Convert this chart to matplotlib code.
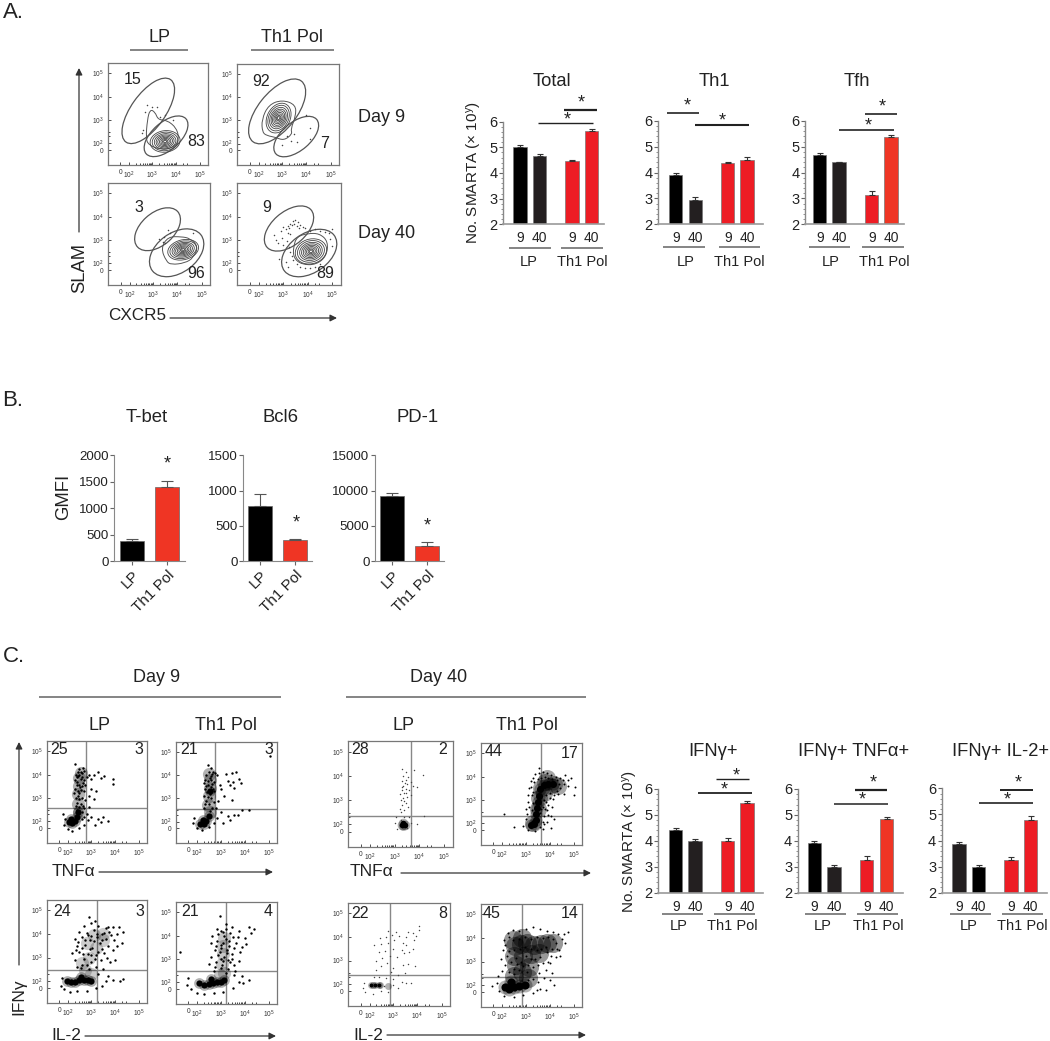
import numpy as np
import matplotlib
matplotlib.use('Agg')
import matplotlib.pyplot as plt
from matplotlib.patches import Ellipse, PathPatch
from matplotlib.path import Path
from matplotlib.ticker import MultipleLocator

plt.rcParams['font.family'] = ['Liberation Sans', 'DejaVu Sans']
plt.rcParams['mathtext.default'] = 'regular'

W, H = 1050, 1041

# bar values
days = ['9', '40', '9', '40']
total_vals, total_errs = [5.0, 4.65, 4.45, 5.65], [0.1, 0.08, 0.04, 0.08]
th1_vals, th1_errs = [3.9, 2.95, 4.37, 4.5], [0.1, 0.1, 0.05, 0.1]
tfh_vals, tfh_errs = [4.67, 4.4, 3.15, 5.38], [0.08, 0.03, 0.15, 0.07]
ifn_vals, ifn_errs = [4.42, 3.98, 4.0, 5.47], [0.08, 0.1, 0.1, 0.08]
ifn_tnf_vals, ifn_tnf_errs = [3.9, 3.0, 3.27, 4.83], [0.08, 0.08, 0.13, 0.1]
ifn_il2_vals, ifn_il2_errs = [3.88, 2.98, 3.25, 4.8], [0.07, 0.08, 0.13, 0.12]

gmfi_names = ['LP', 'Th1 Pol']
tbet_vals, tbet_errs = [375, 1400], [50, 110]
bcl6_vals, bcl6_errs = [785, 300], [170, 10]
pd1_vals, pd1_errs = [9200, 2150], [400, 500]

# contour panels: gates are (centre x, centre y, length, width, angle) in decades
lp9_gates = [(2.83, 3.39, 3.27, 1.45, 55), (3.58, 2.30, 2.25, 1.18, 42)]
th9_gates = [(2.79, 3.39, 3.3, 1.6, 53), (3.58, 2.30, 2.25, 1.2, 42)]
lp40_gates = [(3.18, 3.46, 2.25, 1.38, 43), (3.97, 2.45, 2.53, 1.69, 38)]
th40_gates = [(3.24, 3.49, 2.4, 1.41, 43), (4.06, 2.44, 2.53, 1.66, 38)]

lp9_outer = [(2.73, 2.23), (2.79, 3.0), (2.90, 3.45), (3.11, 3.35), (3.25, 3.0), (3.61, 3.0), (4.03, 2.65),
             (4.13, 2.15), (3.89, 1.80), (3.32, 1.73), (2.83, 1.94)]
th9_outer = [(2.18, 2.48), (2.15, 3.04), (2.44, 3.68), (3.0, 3.89), (3.56, 3.68), (3.56, 3.18), (3.35, 2.62),
             (3.42, 2.41), (3.07, 2.13), (2.72, 2.27), (2.37, 2.34)]
lp40_outer = [(3.32, 2.65), (3.61, 3.14), (4.17, 3.14), (4.52, 3.07), (4.87, 2.72), (4.66, 2.23), (4.31, 2.01),
              (3.75, 1.94), (3.54, 2.08)]
th40_outer = [(3.42, 2.72), (3.56, 3.14), (3.99, 3.28), (4.48, 3.28), (4.83, 2.93), (4.76, 2.30), (4.34, 1.94),
              (3.77, 1.94), (3.42, 2.23)]

# inner contours: centre x, centre y, length, width, angle
lp9_inner = (3.54, 2.08, 1.27, 0.92, 8)
th9_inner = (2.85, 3.1, 1.35, 0.95, 65)
lp40_inner = (4.24, 2.58, 1.3, 0.85, 15)
th40_inner = (4.13, 2.51, 1.3, 1.05, 20)
contour_scale = [1.0, 0.86, 0.72, 0.6, 0.49, 0.38, 0.28, 0.18, 0.1]

lp9_dots = [(2.76, 3.63), (2.97, 3.54), (3.18, 3.54), (2.69, 3.35), (2.55, 2.44), (2.62, 2.58), (3.32, 3.14),
            (3.89, 3.0), (3.54, 3.21)]
th9_dots = [(3.99, 3.25), (4.13, 2.66), (3.63, 2.06), (3.35, 2.13), (3.0, 1.92), (4.13, 2.2), (3.5, 2.41), (3.2, 2.34)]
lp40_dots = [(3.61, 3.42), (3.68, 3.28), (3.46, 3.14), (3.39, 2.93), (3.25, 3.05), (4.65, 3.3), (3.5, 2.85)]
th40_dots = [(2.65, 3.2), (2.7, 3.0), (2.8, 2.85), (2.95, 3.1), (3.0, 2.8), (3.1, 3.45), (3.2, 3.6), (3.3, 3.7), (3.4, 3.8),
             (3.5, 3.85), (3.6, 3.75), (3.7, 3.65), (3.8, 3.55), (3.25, 3.5), (3.35, 3.62), (3.45, 3.7), (3.55, 3.6),
             (3.65, 3.5), (3.2, 3.3), (3.3, 3.25), (3.15, 2.95), (3.25, 2.7), (3.3, 2.5), (3.35, 2.3), (3.4, 2.15),
             (3.55, 1.95), (3.7, 1.85), (3.9, 1.8), (4.1, 1.8), (4.3, 1.85), (4.5, 1.95), (4.1, 3.4), (4.3, 3.45),
             (4.5, 3.4), (4.7, 3.35), (4.85, 3.3), (5.0, 3.45), (4.9, 3.05), (5.0, 2.75), (2.85, 2.2), (3.1, 2.05),
             (3.2, 1.85), (3.9, 3.5), (3.0, 3.55), (2.9, 3.4)]

# dot panels: scattered events, solid dense parts and soft crowded parts, in decades
d9_lp_tnf_dots = [(2.5, 2.6), (2.4, 2.8), (2.6, 3.0), (2.5, 3.2), (2.3, 3.4), (2.6, 3.5), (2.4, 3.7), (2.7, 3.3), (2.55, 3.8),
                  (2.35, 4.0), (2.6, 4.05), (2.45, 3.95), (2.8, 3.9), (2.9, 4.0), (2.7, 4.15), (2.5, 4.25), (2.65, 4.3),
                  (2.3, 4.45), (3.0, 3.8), (3.1, 4.0), (3.3, 4.1), (3.55, 3.95), (3.4, 3.85), (3.9, 3.8), (3.9, 3.6),
                  (3.0, 3.4), (3.2, 3.3), (2.9, 3.1), (2.75, 2.9), (3.1, 2.95), (2.4, 2.5), (2.6, 2.4), (2.8, 2.3),
                  (3.0, 2.2), (3.3, 2.1), (3.5, 2.2), (3.7, 2.0), (3.15, 1.85), (3.4, 1.95), (2.85, 2.05), (2.7, 2.2),
                  (1.85, 1.85), (1.9, 2.1), (1.8, 2.3), (2.0, 1.65), (2.2, 1.6), (2.5, 1.7), (2.7, 1.85), (2.6, 2.1),
                  (2.35, 3.0), (2.45, 3.3), (2.55, 2.75), (2.65, 3.65), (2.5, 3.55), (2.4, 3.9), (2.7, 3.75), (2.42, 3.1),
                  (2.58, 3.35), (2.33, 3.75), (2.48, 4.0), (2.62, 3.9), (2.28, 3.2), (2.5, 2.95), (2.66, 2.65), (2.75, 3.55),
                  (2.38, 3.55), (2.52, 3.45), (2.44, 4.1), (2.56, 4.12), (2.36, 2.65), (2.7, 2.55), (2.9, 2.6), (2.47, 2.35)]
d9_lp_tnf_core = [(2.05, 1.95), (2.2, 1.93), (2.32, 2.0), (2.15, 2.1), (2.4, 2.2), (2.42, 2.38)]
d9_lp_tnf_haze = [(2.45, 2.75), (2.45, 3.15), (2.48, 3.5), (2.5, 3.85), (2.55, 4.05), (2.5, 2.4)]

d9_th_tnf_dots = [(2.5, 2.75), (2.4, 2.9), (2.6, 3.0), (2.3, 3.1), (2.55, 3.2), (2.7, 3.3), (2.35, 3.4), (2.6, 3.5), (2.45, 3.6),
                  (2.7, 3.7), (2.35, 3.8), (2.55, 3.9), (2.4, 4.0), (2.65, 4.05), (2.5, 4.15), (2.75, 4.1), (2.6, 4.3),
                  (2.45, 4.45), (2.85, 4.0), (3.2, 4.05), (3.45, 4.1), (3.65, 4.15), (3.3, 3.75), (3.4, 3.6), (3.5, 3.7),
                  (3.75, 3.85), (3.85, 3.65), (3.55, 3.45), (3.0, 3.4), (3.15, 3.1), (3.45, 2.95), (2.9, 2.9), (2.95, 3.6),
                  (2.8, 2.6), (3.0, 2.4), (3.3, 2.25), (3.55, 2.3), (3.7, 2.3), (3.9, 2.5), (4.2, 2.5), (3.4, 2.05), (3.1, 1.95),
                  (2.85, 2.15), (2.7, 1.95), (1.85, 1.95), (1.9, 2.15), (2.0, 1.7), (2.2, 1.65), (2.5, 1.75), (5.05, 4.85),
                  (2.3, 2.6), (2.62, 2.6), (2.48, 3.05), (2.52, 3.35), (2.62, 3.62), (2.48, 3.75), (2.58, 3.78), (2.42, 3.28),
                  (2.66, 3.4), (2.4, 3.55), (2.58, 3.95), (2.7, 2.85), (2.35, 2.75), (2.55, 2.45), (2.3, 3.65), (2.68, 4.15)]
d9_th_tnf_core = [(2.12, 1.9), (2.28, 1.88), (2.4, 2.02), (2.25, 2.08), (2.52, 2.22), (2.56, 3.3)]
d9_th_tnf_haze = [(2.45, 2.7), (2.5, 3.1), (2.55, 3.45), (2.55, 3.8), (2.5, 4.05), (2.55, 2.4)]

d9_lp_il2_dots = [(2.4, 2.6), (2.6, 2.7), (2.9, 2.5), (3.2, 2.6), (3.5, 2.5), (2.3, 2.9), (2.7, 2.95), (3.0, 2.8), (3.4, 2.9),
                  (3.8, 2.8), (2.2, 3.2), (2.5, 3.25), (2.85, 3.15), (3.2, 3.1), (3.55, 3.2), (3.9, 3.3), (2.4, 3.5),
                  (2.75, 3.55), (3.05, 3.4), (3.35, 3.6), (3.7, 3.5), (4.1, 3.5), (2.3, 3.8), (2.6, 3.85), (2.95, 3.75),
                  (3.25, 3.85), (3.6, 3.8), (3.95, 3.75), (4.3, 3.6), (2.5, 4.1), (2.8, 4.05), (3.1, 4.15), (3.45, 4.0),
                  (3.75, 4.1), (4.1, 4.0), (4.35, 4.1), (2.7, 4.35), (3.0, 4.45), (3.3, 4.35), (3.6, 4.25), (3.9, 4.3),
                  (4.15, 4.3), (2.9, 4.7), (3.15, 4.55), (1.7, 1.8), (1.75, 2.15), (1.85, 1.65), (2.1, 1.55), (2.4, 1.6),
                  (2.8, 1.6), (3.2, 1.7), (3.45, 1.8), (3.6, 2.0), (3.9, 2.05), (4.2, 2.0), (4.35, 2.1), (3.7, 2.2), (3.3, 2.3),
                  (2.6, 3.4), (2.95, 3.35), (3.1, 3.7), (2.65, 3.15), (3.45, 3.35), (2.85, 3.95), (3.25, 4.0), (3.55, 4.05),
                  (3.85, 3.95), (2.45, 3.65), (3.15, 2.95), (2.8, 2.7), (3.0, 3.1), (2.55, 2.55), (3.3, 3.25), (3.65, 3.0),
                  (4.0, 2.9), (2.75, 3.75), (3.45, 3.75), (3.7, 4.3), (3.0, 3.9), (2.35, 3.3)]
d9_lp_il2_core = [(1.98, 2.0), (2.15, 1.95), (2.32, 1.98), (2.5, 2.03), (2.68, 2.05), (2.85, 2.03), (2.98, 2.0), (2.55, 2.18)]
d9_lp_il2_haze = [(3.0, 2.3), (2.75, 2.45), (2.9, 3.0), (3.2, 3.4), (2.8, 3.6), (3.5, 3.75), (3.1, 3.95), (2.6, 2.75), (3.5, 4.0)]

d9_th_il2_dots = [(2.7, 2.5), (3.0, 2.6), (3.3, 2.55), (3.6, 2.5), (2.5, 2.8), (2.8, 2.85), (3.1, 2.9), (3.4, 2.85), (3.75, 2.9),
                  (2.6, 3.1), (2.9, 3.15), (3.15, 3.1), (3.45, 3.2), (3.8, 3.3), (2.75, 3.4), (3.0, 3.45), (3.25, 3.4),
                  (3.55, 3.45), (3.9, 3.5), (2.6, 3.7), (2.85, 3.75), (3.1, 3.7), (3.35, 3.75), (3.65, 3.7), (4.05, 3.65),
                  (2.65, 4.0), (2.9, 4.05), (3.15, 4.0), (3.4, 4.1), (3.7, 3.95), (4.0, 3.9), (2.85, 4.3), (3.2, 4.3),
                  (3.45, 4.35), (3.75, 4.2), (4.25, 4.1), (4.4, 4.3), (4.2, 4.35), (3.2, 4.5), (2.95, 4.85), (1.3, 3.3),
                  (1.6, 1.9), (1.65, 2.2), (1.75, 1.7), (2.0, 1.55), (2.3, 1.5), (2.7, 1.55), (3.1, 1.6), (3.5, 1.75), (3.75, 2.0),
                  (3.95, 1.95), (4.2, 2.1), (3.9, 2.25), (3.55, 2.3), (3.0, 3.0), (3.25, 3.25), (3.0, 3.6), (3.2, 3.85),
                  (2.95, 3.3), (3.35, 3.55), (3.05, 2.75), (3.3, 2.95), (3.1, 4.15), (3.5, 3.95), (2.8, 3.55), (3.45, 3.0),
                  (2.75, 2.65), (3.55, 2.75), (3.2, 2.4), (3.0, 4.2)]
d9_th_il2_core = [(2.1, 1.95), (2.3, 1.9), (2.5, 1.92), (2.68, 1.95), (2.85, 2.0), (3.0, 2.02), (3.15, 2.08), (2.6, 2.15)]
d9_th_il2_haze = [(3.15, 2.4), (3.05, 2.8), (3.1, 3.2), (3.1, 3.55), (3.15, 3.9), (2.95, 2.3)]

d40_lp_tnf_dots = [(3.25, 2.5), (3.4, 2.6), (3.3, 2.8), (3.45, 2.9), (3.25, 3.0), (3.35, 3.1), (3.5, 3.15), (3.2, 3.25), (3.4, 3.3),
                   (3.3, 3.4), (3.45, 3.45), (3.6, 3.4), (3.35, 3.6), (3.5, 3.65), (3.3, 3.8), (3.45, 3.85), (3.65, 3.75),
                   (3.75, 3.6), (3.9, 3.55), (3.55, 3.95), (3.35, 4.0), (3.45, 4.15), (3.3, 4.3), (3.8, 4.25), (4.15, 4.05),
                   (3.65, 3.2), (3.55, 2.7), (3.6, 2.3), (3.9, 2.0), (4.2, 2.35), (3.65, 2.05), (3.1, 1.8), (3.0, 2.05), (3.05, 2.3),
                   (3.5, 1.85), (3.4, 2.3), (3.25, 2.2), (3.3, 3.55), (3.42, 3.7), (3.38, 2.95), (3.48, 3.3), (3.2, 2.65)]
d40_lp_tnf_core = [(3.3, 1.98), (3.42, 1.98), (3.36, 2.08)]
d40_lp_tnf_haze = [(3.35, 1.95)]

d40_th_tnf_dots = [(2.9, 1.9), (3.0, 2.2), (3.0, 2.6), (3.1, 2.9), (3.1, 3.2), (3.15, 3.5), (3.2, 3.8), (3.3, 3.95), (3.4, 4.1), (3.55, 4.15),
                   (3.7, 4.2), (3.55, 4.35), (3.9, 4.15), (4.05, 4.05), (4.25, 4.0), (4.45, 3.95), (4.65, 4.05), (4.75, 3.85), (4.9, 3.95),
                   (4.6, 3.7), (4.45, 3.5), (4.6, 3.25), (5.0, 3.2), (5.05, 3.55), (4.2, 3.2), (4.0, 3.1), (3.85, 2.9), (3.7, 2.7),
                   (3.9, 2.55), (4.05, 2.3), (4.2, 2.2), (3.75, 2.3), (3.9, 2.05), (4.05, 1.8), (3.7, 1.75), (3.4, 1.65), (3.1, 1.7),
                   (2.5, 1.85), (2.1, 2.4), (3.6, 2.45), (3.7, 2.05), (3.25, 3.2), (3.3, 2.85), (3.25, 2.55), (3.75, 3.0), (3.85, 3.2),
                   (4.3, 3.4), (4.3, 3.85), (4.4, 3.7), (3.2, 3.55), (3.8, 4.0), (4.0, 3.3), (4.15, 3.05), (3.55, 2.6), (3.6, 1.85),
                   (3.35, 3.75), (3.5, 3.9), (3.65, 3.95), (3.3, 3.35), (3.95, 3.95), (4.1, 3.9), (4.55, 3.85), (4.35, 3.25), (3.95, 2.8),
                   (4.1, 2.7), (3.8, 2.6), (3.25, 2.1), (3.65, 2.6), (3.75, 1.95), (3.95, 2.35), (3.05, 2.4), (3.15, 2.7), (4.75, 3.6)]
d40_th_tnf_core = [(3.22, 1.92), (3.36, 1.95), (3.42, 2.15), (3.42, 2.4), (3.46, 2.65), (3.52, 2.9), (3.55, 3.18), (3.6, 3.45),
                   (3.75, 3.62), (3.95, 3.7), (4.15, 3.68)]
d40_th_tnf_haze = [(3.3, 2.0), (3.5, 2.6), (3.55, 3.1), (3.65, 3.5), (3.8, 3.75), (4.0, 3.6), (4.2, 3.7), (3.75, 3.3), (4.35, 3.6), (3.9, 3.95)]

d40_lp_il2_dots = [(2.9, 2.5), (3.2, 2.4), (3.5, 2.45), (2.3, 2.6), (2.5, 2.75), (2.75, 2.9), (3.0, 2.7), (3.4, 2.8), (3.6, 2.85), (3.9, 2.75),
                   (2.3, 3.0), (2.55, 3.1), (2.85, 3.2), (3.15, 3.15), (3.45, 3.3), (3.65, 3.35), (2.4, 3.35), (2.65, 3.4), (3.0, 3.5),
                   (3.35, 3.45), (3.55, 3.65), (3.8, 3.5), (2.2, 3.65), (2.5, 3.7), (2.8, 3.75), (3.05, 3.85), (3.4, 3.75), (3.85, 3.85),
                   (2.45, 3.95), (2.7, 4.0), (2.95, 4.1), (3.25, 4.05), (3.55, 4.0), (3.8, 4.15), (3.95, 4.05), (2.8, 4.25), (3.1, 4.2),
                   (3.6, 4.2), (4.05, 4.45), (4.05, 4.3), (1.75, 1.85), (1.8, 2.05), (1.85, 1.65), (2.15, 1.6), (2.5, 1.7), (2.8, 1.65),
                   (3.0, 1.95), (3.2, 1.85), (3.35, 2.1), (3.55, 2.05), (3.0, 2.2), (2.7, 2.25), (2.4, 2.3), (2.2, 2.3), (3.75, 2.05), (2.6, 1.9)]
d40_lp_il2_core = [(2.08, 1.95), (2.25, 1.97), (2.4, 1.98)]
d40_lp_il2_haze = [(2.15, 1.95), (2.45, 1.95), (2.8, 1.92)]

d40_th_il2_dots = [(1.9, 1.75), (1.8, 2.1), (2.1, 1.55), (2.5, 1.5), (2.9, 1.6), (3.3, 1.65), (3.6, 1.85), (3.85, 1.8), (4.2, 2.0), (3.75, 2.3),
                   (2.0, 2.6), (1.95, 3.1), (2.05, 3.5), (2.1, 3.9), (2.25, 4.2), (2.45, 4.35), (2.7, 4.3), (3.0, 4.4), (3.3, 4.45), (3.6, 4.4),
                   (3.9, 4.3), (4.15, 4.25), (4.35, 4.15), (4.5, 3.95), (4.65, 3.8), (4.4, 3.5), (4.25, 3.2), (4.0, 2.95), (3.85, 2.65),
                   (4.1, 2.5), (2.15, 2.85), (2.2, 3.25), (2.15, 3.7), (4.6, 4.15), (4.75, 4.25), (3.9, 3.4), (3.95, 3.0), (2.3, 2.55),
                   (3.55, 2.5), (3.3, 2.75), (3.05, 2.55), (2.7, 2.65), (3.4, 3.1), (3.7, 2.95), (4.05, 3.25), (4.45, 3.25), (2.3, 4.05),
                   (4.25, 3.8), (3.1, 2.2), (3.3, 2.25), (3.5, 2.15), (1.6, 1.95), (1.85, 2.4), (3.45, 1.8), (4.0, 2.2), (2.5, 2.45),
                   (2.4, 3.0), (2.6, 3.15), (2.8, 3.0), (3.0, 3.25), (3.2, 3.1), (2.5, 3.5), (2.75, 3.55), (2.95, 3.6), (3.2, 3.55), (3.45, 3.5),
                   (3.65, 3.55), (2.45, 3.9), (2.7, 3.95), (2.95, 4.05), (3.2, 3.95), (3.45, 4.05), (3.7, 4.0), (3.95, 4.05), (4.15, 3.95),
                   (2.5, 2.7), (2.65, 2.9), (2.9, 2.8), (3.1, 2.85), (3.5, 2.85), (3.6, 3.2), (3.85, 3.6), (4.1, 3.55), (4.3, 3.55), (2.3, 3.45)]
d40_th_il2_core = [(2.12, 1.92), (2.3, 1.85), (2.5, 1.9), (2.72, 1.98), (2.95, 2.0), (2.4, 2.12)]
d40_th_il2_haze = [(2.5, 2.4), (2.6, 2.85), (2.5, 3.25), (2.55, 3.65), (2.8, 3.75), (3.05, 3.8), (3.35, 3.7), (3.65, 3.75), (3.9, 3.8),
                   (4.15, 3.8), (2.9, 3.25), (3.2, 3.3), (2.45, 3.9), (2.85, 2.55), (3.15, 2.75), (3.55, 3.35), (3.1, 2.3), (2.85, 4.0)]

fig = plt.figure(figsize=(W / 100, H / 100), dpi=100)

pg = fig.add_axes([0, 0, 1, 1], zorder=10)
pg.set_xlim(0, W)
pg.set_ylim(H, 0)
pg.axis('off')
pg.patch.set_alpha(0)

DARK = '#222222'
RED = '#ed1c24'
ORANGE = '#ef3524'


def ax_px(l, t, r, b):
    return fig.add_axes([l / W, 1 - b / H, (r - l) / W, (b - t) / H])


def label(x, y, s, size=12, **kw):
    kw.setdefault('ha', 'center')
    kw.setdefault('va', 'center')
    kw.setdefault('color', DARK)
    pg.text(x, y, s, fontsize=size, **kw)


def rule(x0, x1, y, lw=1.2, color='#707070'):
    pg.plot([x0, x1], [y, y], color=color, lw=lw, solid_capstyle='butt')


def arrow(x0, y0, x1, y1):
    pg.annotate('', xy=(x1, y1), xytext=(x0, y0),
                arrowprops=dict(arrowstyle='-|>', color='#333333', lw=0.9, mutation_scale=10, shrinkA=0, shrinkB=0))


def star(x, y):
    label(x, y + 3, '*', size=13)


def flow_frame(box):
    ax = ax_px(*box)
    ax.set_xlim(1.13, 5.35)
    ax.set_ylim(1.07, 5.44)
    names = ['0', '$10^{2}$', '$10^{3}$', '$10^{4}$', '$10^{5}$']
    ax.set_xticks([1.65, 2.02, 3, 4, 5], names)
    ax.set_yticks([1.7, 2, 3, 4, 5], names)
    minor = np.concatenate([d + np.log10(np.arange(2, 10)) for d in [2, 3, 4]])
    ax.set_xticks(minor[minor < 4.55], minor=True)
    ax.set_yticks(minor[minor < 2.6], minor=True)
    ax.tick_params(which='major', direction='in', length=2.2, width=0.6, labelsize=4.8, pad=3.2,
                   colors='#333333')
    ax.tick_params(which='minor', direction='in', length=1.4, width=0.6, colors='#222222')
    for s in ax.spines.values():
        s.set_color('#777777')
        s.set_linewidth(0.9)
    return ax


def smooth_closed(points):
    # quadratic curve through the midpoints, with the read points as controls
    pts = np.array(points)
    mids = (pts + np.roll(pts, -1, axis=0)) / 2
    verts = [mids[-1]]
    codes = [Path.MOVETO]
    for p, m in zip(pts, mids):
        verts += [p, m]
        codes += [Path.CURVE3, Path.CURVE3]
    return Path(verts, codes)


def contour_panel(box, gates, outer, inner, dots):
    ax = flow_frame(box)
    for cx, cy, ln, wd, ang in gates:
        ax.add_patch(Ellipse((cx, cy), ln, wd, angle=ang, fill=False, ec='#555555', lw=0.9))
    ax.add_patch(PathPatch(smooth_closed(outer), fill=False, ec='#555555', lw=0.7))
    cx, cy, ln, wd, ang = inner
    for k in contour_scale:
        ax.add_patch(Ellipse((cx, cy), ln * k, wd * k, angle=ang, fill=False, ec='#444444', lw=0.6))
    pts = np.array(dots)
    ax.scatter(pts[:, 0], pts[:, 1], s=1.2, c='#444444', linewidths=0)


def dot_panel(box, gate, dots, core, haze, dot_size=3, core_size=20, haze_size=90, haze_alpha=0.3, dot_color='black'):
    ax = flow_frame(box)
    ax.axvline(gate[0], color='#888888', lw=1)
    ax.axhline(gate[1], color='#888888', lw=1)
    pts = np.array(dots)
    blob = np.array(core)
    soft = np.array(haze)
    ax.scatter(soft[:, 0], soft[:, 1], s=haze_size, c='black', alpha=haze_alpha, linewidths=0, zorder=2)
    ax.scatter(blob[:, 0], blob[:, 1], s=core_size * 3, c='black', alpha=0.3, linewidths=0, zorder=2)
    ax.scatter(blob[:, 0], blob[:, 1], s=core_size, c='black', linewidths=0, zorder=3)
    ax.scatter(pts[:, 0], pts[:, 1], s=dot_size, c=dot_color, linewidths=0, zorder=4)


def bar_panel(left, right, y6, y2, bars_px, vals, errs, colors, title, title_x, title_y,
              line_y, lp_line, th_line, lp_x, th_x, names_y):
    ax = ax_px(left, y6, right, y2)
    step = bars_px[1] - bars_px[0]
    pos = [(b - bars_px[0]) / step for b in bars_px]
    ax.bar(pos, vals, width=0.68, color=colors, edgecolor='#777777', linewidth=0.5)
    ax.errorbar(pos, vals, yerr=[[0] * 4, errs], fmt='none', ecolor='#333333', elinewidth=0.8, capsize=2.5, capthick=0.8)
    ax.set_xlim((left - bars_px[0]) / step, (right - bars_px[0]) / step)
    ax.set_ylim(2, 6)
    ax.set_yticks([2, 3, 4, 5, 6])
    ax.yaxis.set_minor_locator(MultipleLocator(0.2))
    ax.set_xticks(pos, days)
    ax.tick_params(axis='x', length=0, labelsize=10, pad=5, labelcolor=DARK)
    ax.tick_params(axis='y', which='major', length=3, width=0.8, color='#666666', labelsize=10.5, pad=1, labelcolor=DARK)
    ax.tick_params(axis='y', which='minor', length=1.5, width=0.5, color='#666666')
    ax.spines['top'].set_visible(False)
    ax.spines['right'].set_visible(False)
    ax.spines['left'].set_color('#888888')
    ax.spines['bottom'].set_color('#999999')
    ax.spines['left'].set_linewidth(1)
    ax.spines['bottom'].set_linewidth(1.2)
    label(title_x, title_y, title, size=13.2)
    rule(lp_line[0], lp_line[1], line_y)
    rule(th_line[0], th_line[1], line_y)
    label(lp_x, names_y, 'LP', size=10.5)
    label(th_x, names_y, 'Th1 Pol', size=10.5)


def gmfi_panel(left, right, top, bottom, bars_px, vals, errs, ymax, ticks, title, title_x):
    ax = ax_px(left, top, right, bottom)
    step = bars_px[1] - bars_px[0]
    ax.bar([0, 1], vals, width=0.68, color=['black', ORANGE], edgecolor='#666666', linewidth=0.5)
    ax.errorbar([0, 1], vals, yerr=[[0, 0], errs], fmt='none', ecolor='#555555', elinewidth=0.8, capsize=4, capthick=0.8)
    ax.set_xlim((left - bars_px[0]) / step, (right - bars_px[0]) / step)
    ax.set_ylim(0, ymax)
    ax.set_yticks(ticks)
    ax.set_xticks([0, 1], gmfi_names, rotation=45, ha='right', rotation_mode='anchor')
    ax.tick_params(axis='x', length=3, width=0.8, color='#666666', labelsize=11, pad=2, labelcolor=DARK)
    ax.tick_params(axis='y', length=3, width=0.8, color='#666666', labelsize=9.6, pad=1, labelcolor=DARK)
    ax.spines['top'].set_visible(False)
    ax.spines['right'].set_visible(False)
    ax.spines['left'].set_color('#888888')
    ax.spines['bottom'].set_color('#888888')
    label(title_x, 418, title, size=13.3)


# panel A flow plots
contour_panel((108, 63, 208, 165), lp9_gates, lp9_outer, lp9_inner, lp9_dots)
contour_panel((237, 64, 339, 165), th9_gates, th9_outer, th9_inner, th9_dots)
contour_panel((108, 183, 210, 285), lp40_gates, lp40_outer, lp40_inner, lp40_dots)
contour_panel((237, 183, 341, 285), th40_gates, th40_outer, th40_inner, th40_dots)

label(3, 13, 'A.', size=16, ha='left')
label(160, 38, 'LP', size=13)
label(292, 38, 'Th1 Pol', size=13)
rule(130, 188, 50)
rule(251, 334, 50)
label(133, 80, '15', size=11.5)
label(196, 142, '83', size=11.5)
label(261, 81, '92', size=11.5)
label(325, 143, '7', size=11.5)
label(139, 208, '3', size=11.5)
label(196, 273, '96', size=11.5)
label(267, 207, '9', size=11.5)
label(325, 273, '89', size=11.5)
label(358, 117, 'Day 9', size=13, ha='left')
label(358, 233, 'Day 40', size=13, ha='left')
label(80, 268, 'SLAM', size=13.2, rotation=90)
arrow(79, 232, 79, 68)
label(137, 316, 'CXCR5', size=12.3)
arrow(170, 318, 337, 318)

# panel A bars
bar_panel(503.3, 604, 121.7, 224.3, [520, 539.7, 572, 591.7], total_vals, total_errs,
          ['black', '#231f20', RED, RED], 'Total', 552, 82, 247.7, (509, 550.7), (561, 602.7), 529, 582, 261.7)
bar_panel(658.3, 762.7, 121, 224.3, [675.7, 695.3, 727.7, 747], th1_vals, th1_errs,
          ['black', '#231f20', RED, RED], 'Th1', 714, 82, 247, (663, 705), (718.7, 760), 686, 739, 261.7)
bar_panel(805, 904, 121, 224.3, [819.7, 839, 871.7, 891], tfh_vals, tfh_errs,
          ['black', '#231f20', RED, ORANGE], 'Tfh', 857, 82, 247, (809, 850), (862, 904), 831, 884, 261.7)
label(474, 173, 'No. SMARTA (× 10$^{y}$)', size=11, rotation=90)

rule(564, 597, 109.7, lw=1.6, color=DARK)
rule(538, 593, 123.3, lw=1, color=DARK)
star(581.7, 100)
star(567.7, 116.7)
rule(667.3, 699.3, 113, lw=1.2, color=DARK)
rule(695, 749.3, 125, lw=1.5, color=DARK)
star(687, 103.3)
star(722, 118.3)
rule(865, 897.3, 113.7, lw=1.2, color=DARK)
rule(839.3, 894, 130.3, lw=1.2, color=DARK)
star(882.7, 104.3)
star(868.7, 123.3)

# panel B
label(2, 400, 'B.', size=16, ha='left')
label(63.3, 496.7, 'GMFI', size=13.3, rotation=90)
gmfi_panel(114.3, 185, 455.3, 561, [132.3, 167.3], tbet_vals, tbet_errs, 2000, [0, 500, 1000, 1500, 2000], 'T-bet', 146.7)
gmfi_panel(243.3, 312.3, 455.3, 561, [260.3, 295.3], bcl6_vals, bcl6_errs, 1500, [0, 500, 1000, 1500], 'Bcl6', 280.3)
gmfi_panel(375, 444.3, 455.3, 561, [392, 427], pd1_vals, pd1_errs, 15000, [0, 5000, 10000, 15000], 'PD-1', 417.3)
star(167.7, 461)
star(296.7, 520)
star(427, 522.7)

# panel C flow plots
dot_panel((47, 741, 147, 843), (2.79, 2.55), d9_lp_tnf_dots, d9_lp_tnf_core, d9_lp_tnf_haze)
dot_panel((176, 742, 277, 843), (2.77, 2.53), d9_th_tnf_dots, d9_th_tnf_core, d9_th_tnf_haze)
dot_panel((47, 900, 147, 1003), (3.24, 2.49), d9_lp_il2_dots, d9_lp_il2_core, d9_lp_il2_haze, haze_alpha=0.2)
dot_panel((176, 902, 277, 1004), (3.23, 2.49), d9_th_il2_dots, d9_th_il2_core, d9_th_il2_haze, haze_alpha=0.22)
dot_panel((348, 741, 453, 847), (3.66, 2.35), d40_lp_tnf_dots, d40_lp_tnf_core, d40_lp_tnf_haze,
          dot_size=1.1, core_size=16, haze_size=40, dot_color='#444444')
dot_panel((481, 743, 582, 845), (3.65, 2.32), d40_th_tnf_dots, d40_th_tnf_core, d40_th_tnf_haze,
          dot_size=2, core_size=26, haze_size=150, haze_alpha=0.35)
dot_panel((348, 903, 450, 1006), (2.87, 2.38), d40_lp_il2_dots, d40_lp_il2_core, d40_lp_il2_haze,
          dot_size=1.1, core_size=8, haze_size=25, dot_color='#444444')
dot_panel((481, 904, 582, 1007), (2.84, 2.35), d40_th_il2_dots, d40_th_il2_core, d40_th_il2_haze,
          dot_size=2, core_size=34, haze_size=190, haze_alpha=0.4)

label(3, 656, 'C.', size=16, ha='left')
label(157, 677, 'Day 9', size=13)
rule(39, 281, 697)
label(439, 677, 'Day 40', size=13)
rule(346, 586, 697)
label(99, 726, 'LP', size=13)
label(226, 726, 'Th1 Pol', size=13)
label(404, 726, 'LP', size=13)
label(527, 726, 'Th1 Pol', size=13)
for x, y, s in [(59, 749, '25'), (139, 749, '3'), (189, 749, '21'), (269, 749, '3'), (62, 911, '24'), (140, 911, '3'),
                (190, 911, '21'), (268, 911, '4'), (360, 750, '28'), (443, 750, '2'), (494, 751, '44'), (570, 753, '17'),
                (360, 914, '22'), (443, 914, '8'), (492, 913, '45'), (570, 913, '14')]:
    label(x, y, s, size=11.5)
label(73, 872, 'TNFα', size=12.5)
arrow(99, 872, 273, 872)
label(66, 1035, 'IL-2', size=12.5)
arrow(85, 1036, 276, 1036)
label(372, 872, 'TNFα', size=12.5)
arrow(401, 873, 591, 873)
label(368, 1035, 'IL-2', size=12.5)
arrow(387, 1035, 586, 1035)
label(19, 997, 'IFNγ', size=12.5, rotation=90)
arrow(19, 965, 19, 742)

# panel C bars
bar_panel(658, 763, 789, 892.7, [675.7, 695, 727.7, 747], ifn_vals, ifn_errs,
          ['black', '#231f20', RED, RED], 'IFNγ+', 713, 752, 914, (662, 703.3), (713.7, 755), 679, 732, 926)
bar_panel(797.7, 902.7, 789, 892.7, [814.3, 834, 866.7, 886.7], ifn_tnf_vals, ifn_tnf_errs,
          ['black', '#231f20', RED, ORANGE], 'IFNγ+ TNFα+', 854, 752, 914, (805, 846), (857.3, 898.3), 822.7, 878.3, 926)
bar_panel(941.7, 1046.7, 788.3, 892.7, [959, 978.7, 1011, 1030.7], ifn_il2_vals, ifn_il2_errs,
          ['#231f20', 'black', RED, RED], 'IFNγ+ IL-2+', 1001, 752, 914, (950, 991), (1002.3, 1043.3), 968.3, 1022.7, 926)
label(630, 841.7, 'No. SMARTA (× 10$^{y}$)', size=11, rotation=90)

rule(716, 749, 779, lw=1, color=DARK)
rule(698.3, 752.3, 793.3, lw=1.3, color=DARK)
star(736, 772.7)
star(724, 786.7)
rule(855, 887.3, 789.7, lw=1.6, color=DARK)
rule(834, 888.3, 804, lw=1.1, color=DARK)
star(873, 780)
star(862.7, 796.7)
rule(1000.3, 1032.7, 790, lw=1.4, color=DARK)
rule(979, 1032.7, 803.3, lw=1.2, color=DARK)
star(1018, 780.3)
star(1007.7, 796.7)

fig.savefig('out.png', dpi=100)
